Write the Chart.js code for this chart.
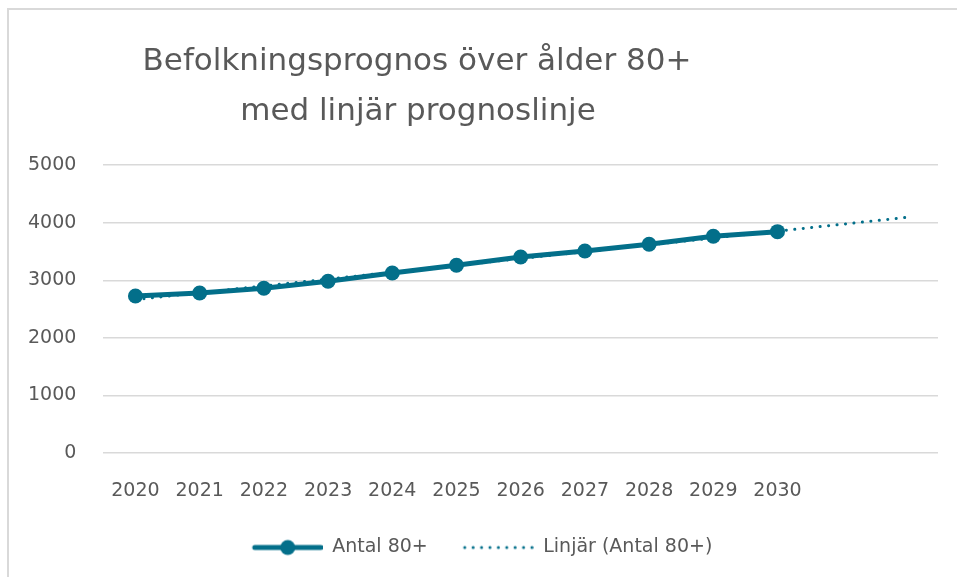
<!DOCTYPE html>
<html>
<head>
<meta charset="utf-8">
<script src="https://cdn.jsdelivr.net/npm/chart.js@4"></script>
<style>
  body { margin: 0; background: white; overflow: hidden; }
  #myChart { display: block; }
</style>
</head>
<body>
<canvas id="myChart" width="957" height="577"></canvas>
<script>
var title_lines = ['Befolkningsprognos över ålder 80+', 'med linjär prognoslinje'];
var years = ['2020', '2021', '2022', '2023', '2024', '2025', '2026', '2027', '2028', '2029', '2030', '', ''];
var antal = [2728, 2780, 2861, 2983, 3127, 3260, 3404, 3508, 3624, 3763, 3844];
// trendline read at its two ends (2020 and end of forecast)
var trend = [2665, null, null, null, null, null, null, null, null, null, null, null, 4090];
var y_ticks = [0, 1000, 2000, 3000, 4000, 5000];

var teal = '#036f8a';
var grey_text = '#595959';
var font_family = '"DejaVu Sans", sans-serif';

// legend icons, with blank space on the left to spread the two entries
function legend_line_icon() {
    var c = document.createElement('canvas');
    c.width = 96; c.height = 18;
    var g = c.getContext('2d');
    g.strokeStyle = teal;
    g.lineWidth = 5;
    g.lineCap = 'round';
    g.beginPath(); g.moveTo(28, 9); g.lineTo(94, 9); g.stroke();
    g.fillStyle = teal;
    g.beginPath(); g.arc(61, 9, 7.5, 0, Math.PI * 2); g.fill();
    return c;
}
function legend_dot_icon() {
    var c = document.createElement('canvas');
    c.width = 96; c.height = 6;
    var g = c.getContext('2d');
    g.fillStyle = teal;
    for (var x = 27; x < 96; x += 8.4) {
        g.beginPath(); g.arc(x, 3, 1.5, 0, Math.PI * 2); g.fill();
    }
    return c;
}
var icons = [legend_line_icon(), legend_dot_icon()];

var framePlugin = {
    id: 'frameAndTitle',
    beforeDraw: function (chart) {
        var ctx = chart.ctx;
        ctx.save();
        ctx.fillStyle = 'white';
        ctx.fillRect(0, 0, chart.width, chart.height);
        ctx.strokeStyle = '#d9d9d9';
        ctx.lineWidth = 2;
        ctx.beginPath();
        ctx.moveTo(8, chart.height);
        ctx.lineTo(8, 9);
        ctx.lineTo(chart.width, 9);
        ctx.stroke();
        ctx.restore();
    },
    afterDraw: function (chart) {
        var ctx = chart.ctx;
        ctx.save();
        ctx.fillStyle = grey_text;
        ctx.font = '31px ' + font_family;
        ctx.textAlign = 'center';
        ctx.textBaseline = 'middle';
        ctx.fillText(title_lines[0], 417, 62);
        ctx.fillText(title_lines[1], 418, 112);
        ctx.restore();
    }
};

var ctx = document.getElementById('myChart');
var chart = new Chart(ctx, {
    type: 'line',
    data: {
        labels: years,
        datasets: [
            {
                label: 'Antal 80+',
                data: antal,
                borderColor: teal,
                backgroundColor: teal,
                borderWidth: 5,
                pointRadius: 7.5,
                pointHoverRadius: 7.5,
                pointBackgroundColor: teal,
                pointBorderWidth: 0,
                tension: 0,
                fill: false
            },
            {
                label: 'Linjär (Antal 80+)',
                data: trend,
                borderColor: teal,
                backgroundColor: teal,
                borderWidth: 3,
                borderDash: [0.1, 8.4],
                borderCapStyle: 'round',
                pointRadius: 0,
                spanGaps: true,
                tension: 0,
                fill: false
            }
        ]
    },
    options: {
        responsive: false,
        animation: false,
        layout: { padding: { top: 165, left: 1, right: 19, bottom: 10 } },
        scales: {
            y: {
                min: 0,
                max: 5000,
                afterBuildTicks: function (axis) {
                    axis.ticks = y_ticks.map(function (v) { return { value: v }; });
                },
                border: { display: false },
                grid: { color: '#d9d9d9', lineWidth: 1.5, drawTicks: false },
                ticks: {
                    color: grey_text, padding: 27, font: { family: font_family, size: 19 },
                    callback: function (v) { return String(v); }
                }
            },
            x: {
                offset: true,
                border: { display: false },
                grid: { display: false, drawTicks: false },
                ticks: { color: grey_text, padding: 26, maxRotation: 0, autoSkip: false,
                         font: { family: font_family, size: 19 } }
            }
        },
        plugins: {
            title: { display: false },
            tooltip: { enabled: false },
            legend: {
                position: 'bottom',
                labels: {
                    color: grey_text,
                    font: { family: font_family, size: 19 },
                    usePointStyle: true,
                    pointStyleWidth: 96,
                    padding: 10,
                    generateLabels: function (chart) {
                        return chart.data.datasets.map(function (ds, i) {
                            return {
                                text: ds.label,
                                pointStyle: icons[i],
                                fillStyle: teal,
                                strokeStyle: teal,
                                lineWidth: 0,
                                hidden: false,
                                datasetIndex: i,
                                fontColor: grey_text
                            };
                        });
                    }
                }
            }
        }
    },
    plugins: [framePlugin]
});
</script>
</body>
</html>
